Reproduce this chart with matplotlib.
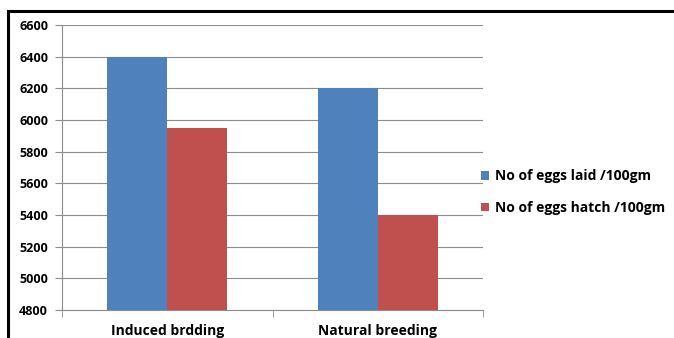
import matplotlib
matplotlib.use("Agg")
import matplotlib.pyplot as plt
from matplotlib.lines import Line2D
import numpy as np

categories = ["Induced brdding", "Natural breeding"]
eggs_laid = [6400, 6200]
eggs_hatch = [5950, 5400]
series_names = ["No of eggs laid /100gm", "No of eggs hatch /100gm"]
y_ticks = [4800, 5000, 5200, 5400, 5600, 5800, 6000, 6200, 6400, 6600]

plt.rcParams["font.family"] = ["Open Sans", "DejaVu Sans"]

fig = plt.figure(figsize=(6.74, 3.38), dpi=100)
ax = fig.add_axes([62 / 674, 1 - 310 / 338, (483 - 62) / 674, (310 - 25) / 338])

x = np.arange(len(categories))
w = 60 / 210
ax.bar(x - w / 2, eggs_laid, w, color="#4F81BD", label=series_names[0], zorder=3)
ax.bar(x + w / 2, eggs_hatch, w, color="#C0504D", label=series_names[1], zorder=3)

ax.set_ylim(4800, 6600)
ax.set_xlim(-0.5, len(categories) - 0.5)
ax.set_yticks(y_ticks)
ax.set_yticklabels([str(v) for v in y_ticks], fontsize=9, fontweight="bold")
ax.yaxis.grid(True, color="#8c8c8c", linewidth=0.8, zorder=0)

ax.set_xticks(x)
ax.set_xticklabels(categories, fontsize=10, fontweight="bold")
ax.tick_params(axis="x", length=0, pad=10)
ax.set_xticks(np.arange(-0.5, len(categories)), minor=True)
ax.tick_params(axis="x", which="minor", length=5, color="#8c8c8c")
ax.tick_params(axis="y", length=5, color="#8c8c8c", pad=5)

for s in ["top", "right"]:
    ax.spines[s].set_visible(False)
for s in ["left", "bottom"]:
    ax.spines[s].set_color("#8c8c8c")
    ax.spines[s].set_linewidth(0.8)

ax.legend(loc="center left", bbox_to_anchor=(0.995, 0.414), frameon=False,
          prop={"size": 10, "weight": "bold"}, handlelength=0.55, handleheight=0.55,
          handletextpad=0.45, labelspacing=1.25, borderaxespad=0.0, borderpad=0.0)

fig.add_artist(Line2D([7.5 / 674, 1.0], [1 - 11 / 338, 1 - 11 / 338], color="black", linewidth=2.2))
fig.add_artist(Line2D([7.5 / 674, 7.5 / 674], [0, 1 - 11 / 338], color="black", linewidth=2.2))

fig.savefig("out.png", dpi=100)
